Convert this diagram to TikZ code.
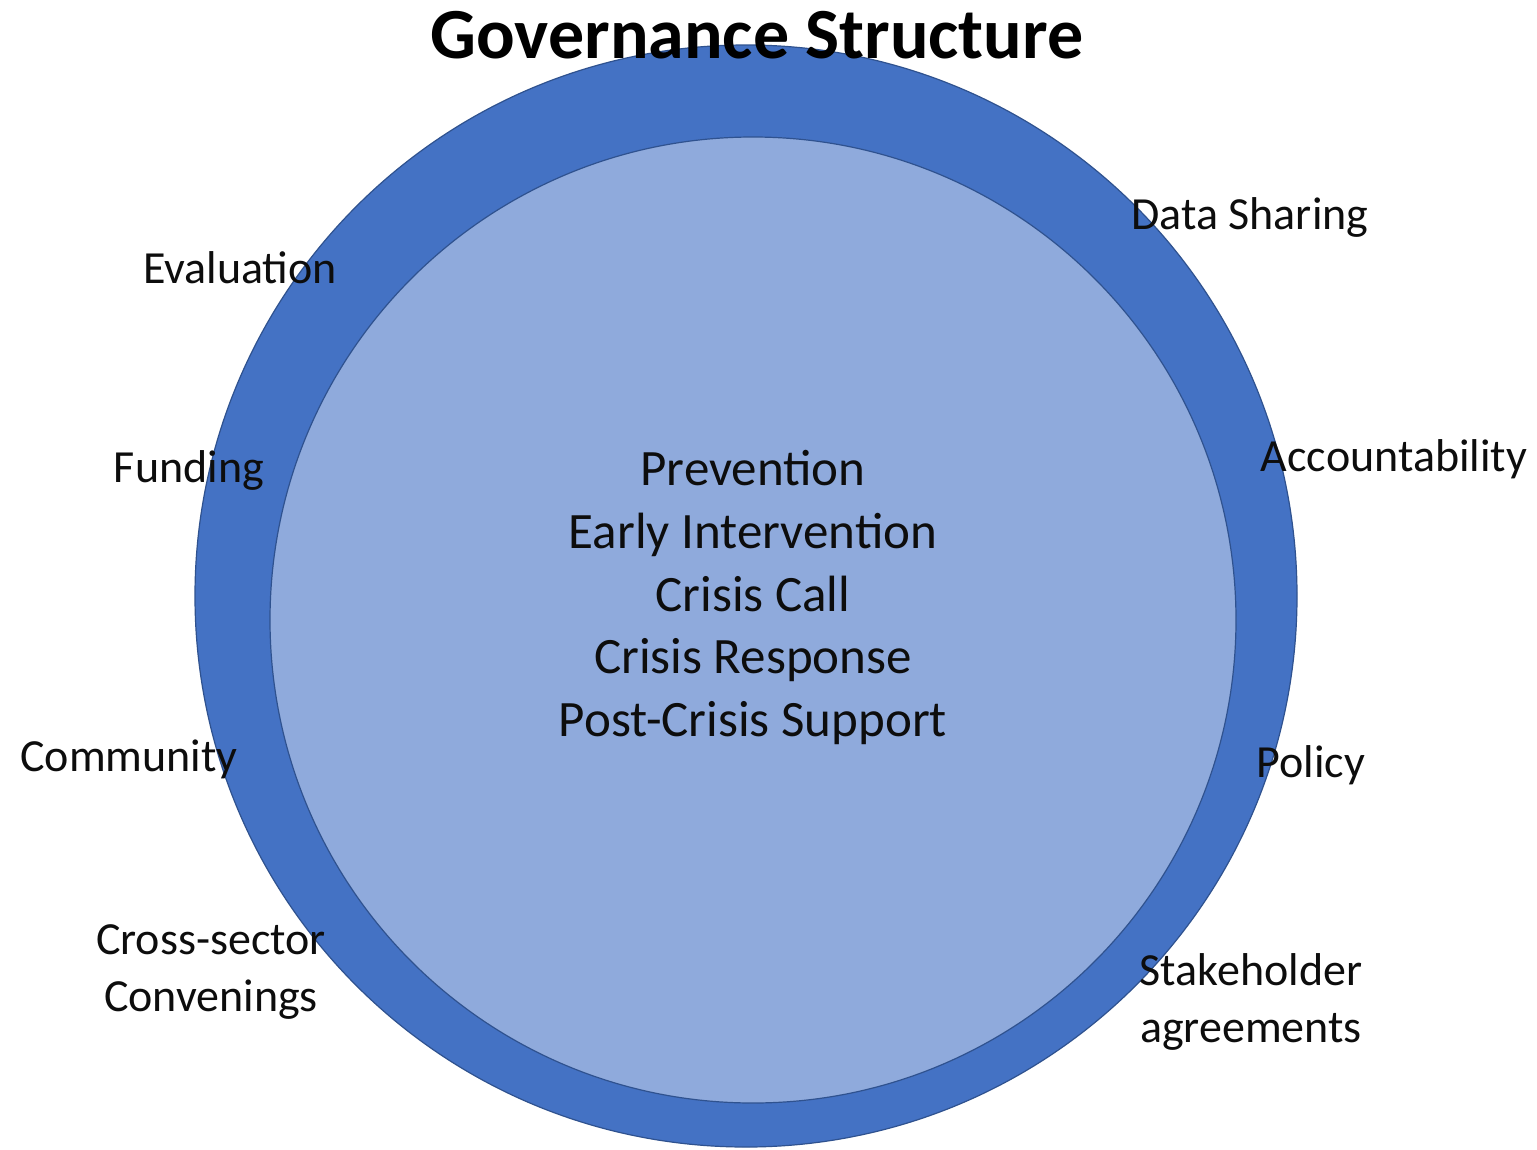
\documentclass[tikz,border=0pt]{standalone}
\usepackage{fontspec}
\setmainfont{Carlito}
\definecolor{ringblue}{HTML}{4472C4}
\definecolor{coreblue}{HTML}{8FAADC}
\definecolor{rimline}{HTML}{2F528F}
\definecolor{ink}{HTML}{0D0D0D}
\begin{document}
\begin{tikzpicture}[x=1pt,y=-1pt,
  ring/.style={fill=ringblue,draw=rimline,line width=1.2pt},
  core/.style={fill=coreblue,draw=rimline,line width=1.2pt},
  title/.style={anchor=base,inner sep=0pt,text=black,font=\fontsize{72}{86}\selectfont\bfseries},
  aspect/.style={anchor=base,inner sep=0pt,text=ink,align=center,font=\fontsize{46}{56.5}\selectfont},
  phase/.style={anchor=base,inner sep=0pt,text=ink,align=center,font=\fontsize{51}{62.7}\selectfont}]
\useasboundingbox (0,0) rectangle (1537,1149);
\fill[white] (0,0) rectangle (1537,1149);

% governance ring and service core
\draw[ring] (746,596) circle[radius=551];
\draw[core] (753,620) circle[radius=483];

\node[title] (head) at (757,58) {Governance Structure};

% service continuum in the core
\node[phase] (p1) at (753,485) {Prevention};
\node[phase] (p2) at (753,548) {Early Intervention};
\node[phase] (p3) at (753,611) {Crisis Call};
\node[phase] (p4) at (753,673) {Crisis Response};
\node[phase] (p5) at (753,736) {Post-Crisis Support};

% governance functions around the ring (two-line labels sit on their last line)
\node[aspect] (eval) at (240,283) {Evaluation};
\node[aspect] (fund) at (189,482) {Funding};
\node[aspect] (comm) at (129,771) {Community};
\node[aspect] (conv) at (211,1011) {Cross-sector\\Convenings};
\node[aspect] (data) at (1250,229) {Data Sharing};
\node[aspect] (acct) at (1394,471) {Accountability};
\node[aspect] (poli) at (1311,777) {Policy};
\node[aspect] (stak) at (1251,1042) {Stakeholder\\agreements};
\end{tikzpicture}
\end{document}
